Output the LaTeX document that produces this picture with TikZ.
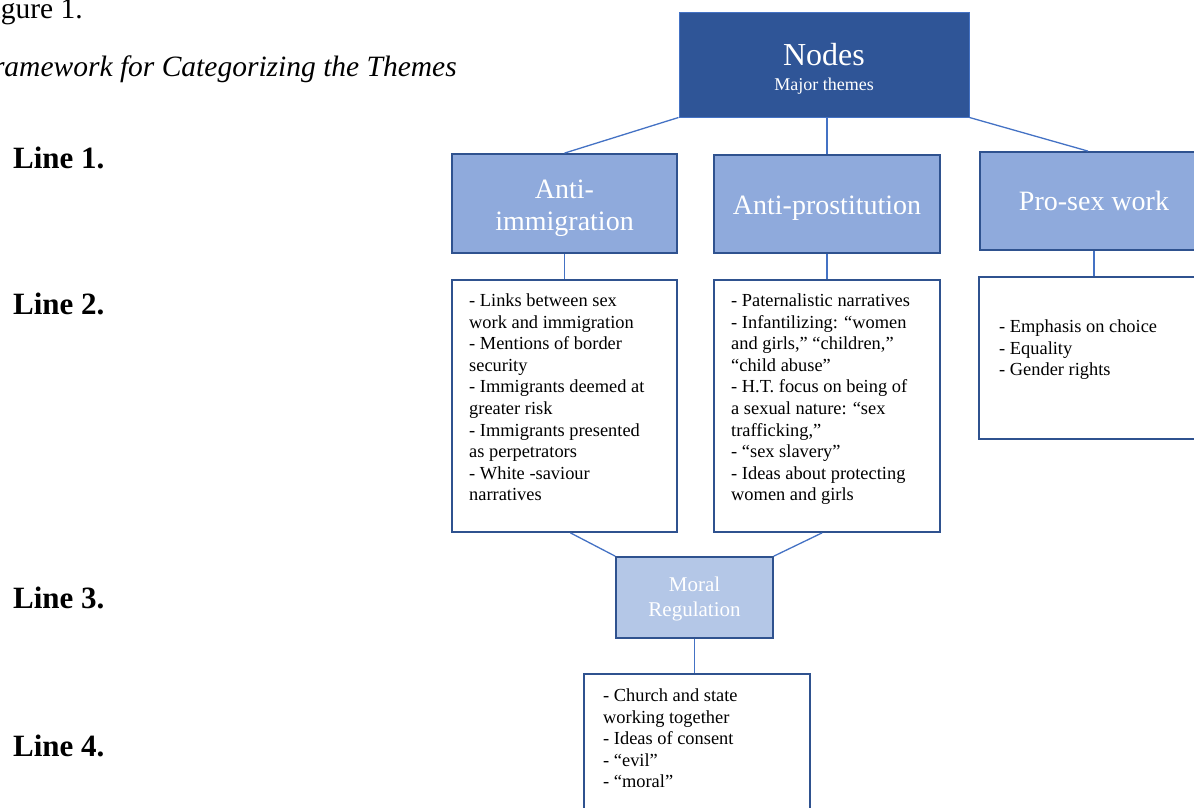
\documentclass[tikz,border=0pt]{standalone}
\usepackage{fontspec}
\setmainfont{Liberation Serif}
\usetikzlibrary{calc}
\definecolor{dkblue}{HTML}{2F5597}
\definecolor{midblue}{HTML}{8FAADC}
\definecolor{ltblue}{HTML}{B4C7E7}
\definecolor{edgeblue}{HTML}{2F528F}
\definecolor{linkblue}{HTML}{4472C4}
\begin{document}
\begin{tikzpicture}[x=1pt,y=-1pt,
  topbox/.style={draw=linkblue, line width=1pt, fill=dkblue, minimum width=290pt, minimum height=105pt, inner sep=0pt},
  toptext/.style={anchor=base, text=white, inner sep=0pt},
  thembox/.style={draw=edgeblue, line width=1.8pt, fill=midblue, text=white, align=center, font=\fontsize{28}{32}\selectfont, inner sep=0pt},
  listbox/.style={draw=edgeblue, line width=1.8pt, fill=white, inner sep=0pt},
  listtext/.style={anchor=north west, align=left, inner sep=0pt, font=\fontsize{18.4}{21.6}\selectfont},
  moralbox/.style={draw=edgeblue, line width=1.8pt, fill=ltblue, text=white, align=center, font=\fontsize{21}{24.5}\selectfont, inner sep=0pt},
  link/.style={draw=linkblue, line width=1.3pt},
  linelabel/.style={anchor=base west, inner sep=0pt, font=\fontsize{31}{34}\selectfont\bfseries},
  titletext/.style={anchor=base east, inner sep=0pt, font=\fontsize{29.5}{34}\selectfont},
]
\path[use as bounding box] (0,0) rectangle (1194,807);
\clip (0,0) rectangle (1194,807);

% title
\node[titletext] (fig) at (83,18) {Figure 1.};
\node[titletext, font=\fontsize{29.5}{34}\selectfont\itshape] (ttl) at (457,76) {Framework for Categorizing the Themes};

% line labels
\node[linelabel] (l1) at (13,168) {Line 1.};
\node[linelabel] (l2) at (13,314) {Line 2.};
\node[linelabel] (l3) at (13,608) {Line 3.};
\node[linelabel] (l4) at (13,756) {Line 4.};

% top
\node[topbox] (top) at (824,64.5) {};
\node[toptext, font=\fontsize{32}{36}\selectfont] (topt) at (824,65) {Nodes};
\node[toptext, font=\fontsize{18}{22}\selectfont] (tops) at (824,90) {Major themes};

% themes
\node[thembox, minimum width=225pt, minimum height=99pt, text height=60pt, text depth=6pt] (ai) at (564.5,203.5) {Anti-\\immigration};
\node[thembox, minimum width=226pt, minimum height=98pt, text height=27pt, text depth=6pt] (ap) at (827,204) {Anti-prostitution};
\node[thembox, minimum width=228pt, minimum height=98pt] (ps) at (1094,201) {Pro-sex work};

% list boxes
\node[listbox, minimum width=225pt, minimum height=252pt] (ba) at (564.5,406) {};
\node[listbox, minimum width=226pt, minimum height=252pt] (bb) at (827,406) {};
\node[listbox, minimum width=230pt, minimum height=162pt] (bc) at (1094,358) {};

\node[listtext] (ta) at (469,293.5) {- Links between sex\\work and immigration\\- Mentions of border\\security\\- Immigrants deemed at\\greater risk\\- Immigrants presented\\as perpetrators\\- White -saviour\\narratives};
\node[listtext] (tb) at (731,293.5) {- Paternalistic narratives\\- Infantilizing: “women\\and girls,” “children,”\\“child abuse”\\- H.T. focus on being of\\a sexual nature: “sex\\trafficking,”\\- “sex slavery”\\- Ideas about protecting\\women and girls};
\node[listtext] (tc) at (999,319.5) {- Emphasis on choice\\- Equality\\- Gender rights};

% moral
\node[moralbox, minimum width=157pt, minimum height=81pt, text height=42pt, text depth=5pt] (mr) at (694.5,597.5) {Moral\\Regulation};
\node[listbox, minimum width=226pt, minimum height=142pt] (bd) at (697,745) {};
\node[listtext] (td) at (603,688.5) {- Church and state\\working together\\- Ideas of consent\\- “evil”\\- “moral”};

% connectors
\draw[link] (top.south west) -- (ai.north);
\draw[link] (ap.north) -- (ap.north |- top.south);
\draw[link] (top.south east) -- ($(ps.north)+(-6,0)$);
\draw[link] (ai.south) -- (ba.north);
\draw[link] (ap.south) -- (bb.north);
\draw[link] (ps.south) -- (bc.north);
\draw[link] ($(ba.south)+(6,0)$) -- (mr.north west);
\draw[link] ($(bb.south)+(-5,0)$) -- (mr.north east);
\draw[link] (mr.south) -- (mr.south |- bd.north);
\end{tikzpicture}
\end{document}
